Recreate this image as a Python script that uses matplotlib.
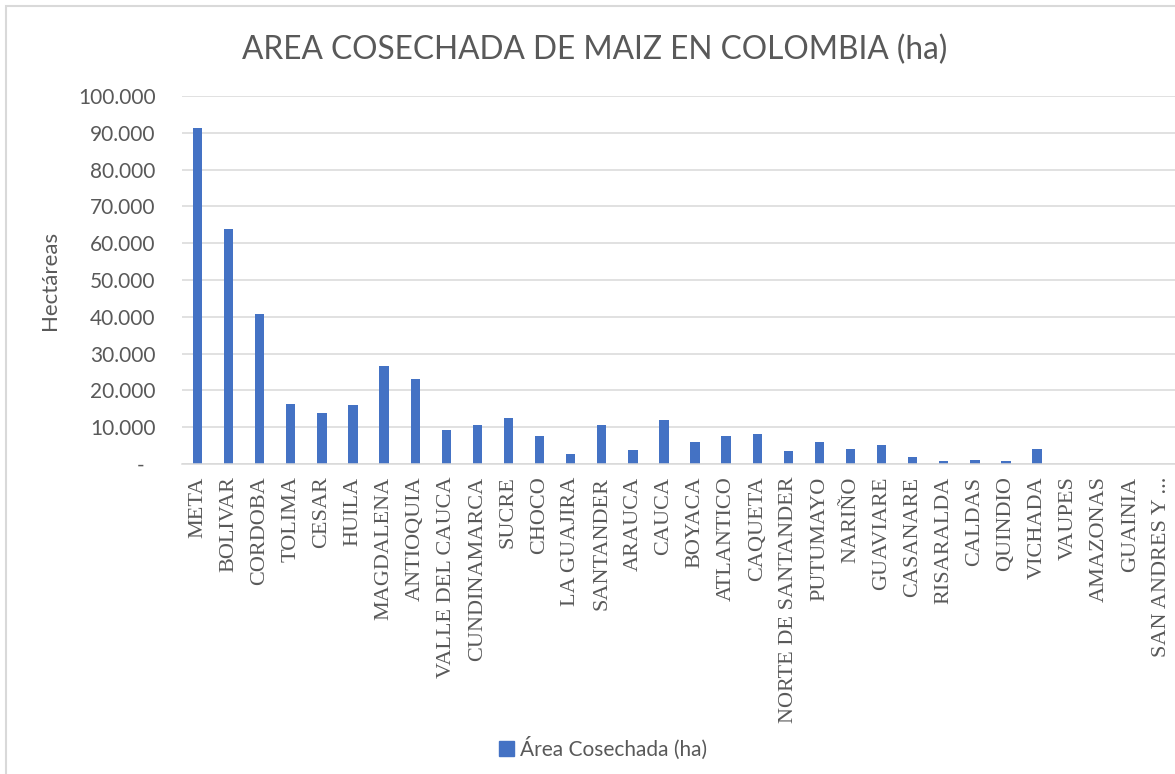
import numpy as np
import matplotlib
matplotlib.use("Agg")
import matplotlib.pyplot as plt
from matplotlib.patches import Patch, Rectangle
from matplotlib.ticker import FuncFormatter

departamentos = ["META", "BOLIVAR", "CORDOBA", "TOLIMA", "CESAR", "HUILA", "MAGDALENA",
                 "ANTIOQUIA", "VALLE DEL CAUCA", "CUNDINAMARCA", "SUCRE", "CHOCO",
                 "LA GUAJIRA", "SANTANDER", "ARAUCA", "CAUCA", "BOYACA", "ATLANTICO",
                 "CAQUETA", "NORTE DE SANTANDER", "PUTUMAYO", "NARIÑO", "GUAVIARE",
                 "CASANARE", "RISARALDA", "CALDAS", "QUINDIO", "VICHADA", "VAUPES",
                 "AMAZONAS", "GUAINIA", "SAN ANDRES Y ..."]
area_ha = [91200, 63800, 40700, 16400, 13800, 16100, 26700,
           23100, 9300, 10700, 12500, 7700,
           2600, 10500, 3900, 12000, 6000, 7500,
           8200, 3400, 6000, 4200, 5200,
           1900, 700, 1100, 700, 4200, 0,
           0, 0, 0]
y_ticks = np.arange(0, 100001, 10000)

W, H = 1175, 774
fig = plt.figure(figsize=(W / 100, H / 100), dpi=100)
ax = fig.add_axes([182 / W, 1 - 464 / H, 995 / W, 368 / H])

sans = ["Lato", "DejaVu Sans"]
grey = "#595959"
blue = "#4472c4"

x = np.arange(len(departamentos))
ax.bar(x, area_ha, width=0.3, color=blue, zorder=3)

ax.set_xlim(-0.5, len(departamentos) - 0.5)
ax.set_ylim(0, 100000)
ax.set_yticks(y_ticks)
ax.yaxis.set_major_formatter(FuncFormatter(
    lambda v, p: "-  " if v == 0 else f"{int(v):,}".replace(",", ".")))
ax.grid(axis="y", color="#d9d9d9", lw=1.1, zorder=0)
for s in ["top", "right", "left"]:
    ax.spines[s].set_visible(False)
ax.spines["bottom"].set_color("#d9d9d9")
ax.spines["bottom"].set_linewidth(1.1)
ax.spines["bottom"].set_zorder(4)

ax.set_xticks(x)
ax.set_xticklabels(departamentos, rotation=90, family="Liberation Serif",
                   fontsize=16, color=grey, va="top", ha="center")
ax.tick_params(axis="x", length=0, pad=9)
ax.tick_params(axis="y", length=0, pad=19, labelsize=15, labelcolor=grey)
for lab in ax.get_yticklabels():
    lab.set_family(sans)

ax.set_ylabel("Hectáreas", family=sans, fontsize=16, color=grey, labelpad=13)

fig.text(595 / W, 1 - 50 / H, "AREA COSECHADA DE MAIZ EN COLOMBIA (ha)",
         family=sans, fontsize=22.8, color=grey, ha="center", va="center")

fig.legend(handles=[Patch(color=blue, label="Área Cosechada (ha)")],
           loc="center", bbox_to_anchor=(603 / W, 1 - 748 / H), frameon=False,
           prop={"family": sans, "size": 15}, labelcolor=grey,
           handlelength=0.7, handleheight=0.7, handletextpad=0.3)

# borde del area del grafico (cortado a la derecha y abajo)
fig.patches.append(Rectangle((6 / W, -0.1), 1.2, 1.1 - 6 / H, transform=fig.transFigure,
                             fill=False, edgecolor="#d9d9d9", lw=1.5))

fig.savefig("out.png", dpi=100)
